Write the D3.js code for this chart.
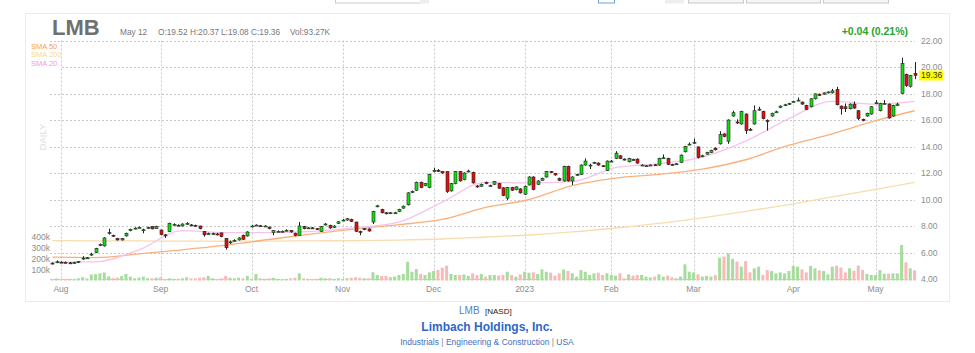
<!DOCTYPE html>
<html>
<head>
<meta charset="utf-8">
<script src="https://cdn.jsdelivr.net/npm/d3@7"></script>
<style>
  body { margin: 0; background: #fff; }
  svg { display: block; font-family: Arial, "Liberation Sans", sans-serif; }
</style>
</head>
<body>
<div id="chart"></div>
<script>
// daily candles, Jul 28 2022 .. May 12 2023 (one entry per trading day)
const opens = [5.2,5.28,5.27,5.26,5.22,5.22,5.24,5.55,5.6,5.82,6.0,6.55,6.5,7.48,7.3,7.05,6.95,7.25,7.65,7.82,
  7.9,7.7,7.88,7.95,7.8,7.7,7.33,7.57,8.1,8.06,8.0,8.18,8.08,8.05,8.0,7.6,7.4,7.42,7.4,7.48,
  7.07,6.8,6.9,6.95,7.3,7.25,7.98,8.05,8.02,7.98,7.92,7.5,7.6,7.6,7.67,7.67,7.45,7.3,7.95,7.86,
  7.86,7.8,7.6,8.12,8.05,7.9,8.2,8.42,8.45,8.5,8.3,7.58,7.72,7.78,8.3,9.5,9.25,9.0,8.98,9.0,
  9.1,9.35,9.6,10.58,10.7,11.3,11.05,10.9,12.15,12.2,12.1,12.1,10.65,11.2,12.1,11.5,12.15,12.05,11.02,11.0,
  11.3,11.05,11.15,11.2,10.88,10.1,10.9,10.75,10.8,10.4,11.1,11.7,11.15,11.45,11.7,12.1,11.95,11.6,11.4,12.5,
  11.4,11.88,11.9,12.6,12.6,12.75,12.75,12.55,12.2,12.88,13.1,13.3,13.05,12.85,13.02,13.05,12.6,12.55,12.6,12.62,
  12.6,13.15,13.1,12.65,12.7,12.8,13.6,14.15,14.3,13.97,13.3,13.42,13.55,13.88,14.2,14.95,14.4,16.3,15.85,15.7,
  16.45,15.3,15.7,16.8,16.65,15.95,16.3,16.6,16.95,17.15,17.18,17.38,17.5,17.35,17.1,17.0,17.6,17.95,17.95,18.05,
  18.05,18.3,17.05,17.0,16.85,17.2,16.7,16.05,16.3,16.45,17.28,16.7,17.25,17.2,16.3,17.1,18.0,19.45,18.55,19.52];
const highs = [5.25,5.4,5.33,5.32,5.28,5.3,5.36,5.72,5.66,5.98,6.35,6.68,7.15,7.8,7.35,7.1,7.1,7.5,7.8,7.9,
  7.97,7.8,7.95,7.97,8.02,7.72,7.4,8.25,8.2,8.12,8.2,8.3,8.15,8.1,8.02,7.62,7.5,7.5,7.48,7.5,
  7.1,6.9,7.0,7.15,7.35,7.6,8.08,8.12,8.08,8.06,7.95,7.7,7.67,7.66,7.75,7.7,7.5,8.3,8.0,7.92,
  7.92,7.85,8.0,8.22,8.1,8.05,8.35,8.52,8.6,8.55,8.32,7.65,7.85,7.82,9.15,9.6,9.3,9.05,9.05,9.07,
  9.3,9.55,10.55,10.68,11.35,11.35,11.25,11.95,12.4,12.3,12.15,12.12,11.25,12.15,12.15,12.05,12.25,12.1,11.1,11.2,
  11.35,11.12,11.4,11.25,10.92,10.95,10.95,11.0,10.85,11.05,11.75,11.75,11.45,11.65,12.15,12.15,12.0,11.65,12.55,12.55,
  11.75,11.95,12.65,13.1,12.7,12.85,12.8,12.6,12.95,12.98,13.65,13.35,13.1,13.15,13.08,13.1,12.66,12.6,12.65,12.68,
  13.15,13.4,13.15,12.7,12.75,13.4,14.05,14.3,14.6,14.0,13.38,13.6,13.75,13.92,15.15,15.0,16.05,16.7,16.05,16.7,
  16.5,15.4,17.1,17.0,16.7,16.05,16.55,16.7,17.1,17.22,17.3,17.45,17.7,17.4,17.15,17.65,18.0,18.0,18.08,18.15,
  18.35,18.5,17.1,17.25,17.25,17.4,16.75,16.1,16.55,17.05,17.5,17.3,17.5,17.25,17.15,17.3,20.7,19.5,19.4,20.37];
const lows = [5.12,5.2,5.2,5.2,5.14,5.17,5.2,5.45,5.52,5.75,5.95,6.48,6.45,7.35,7.2,6.9,6.9,7.2,7.6,7.75,
  7.85,7.45,7.8,7.75,7.78,7.3,7.1,7.55,8.05,8.0,7.97,8.1,8.0,7.97,7.75,7.2,7.35,7.35,7.3,7.15,
  6.22,6.65,6.82,6.9,6.95,7.2,7.9,8.0,7.95,7.93,7.75,7.3,7.55,7.55,7.6,7.5,7.22,7.28,7.75,7.8,
  7.78,7.72,7.55,8.05,7.8,7.85,8.15,8.38,8.4,8.3,7.55,7.3,7.68,7.58,8.15,9.42,8.95,8.88,8.92,8.93,
  9.05,9.3,9.55,10.5,10.65,10.85,11.0,10.85,12.05,12.1,11.95,10.5,10.6,11.15,11.35,11.45,12.05,11.2,10.9,10.95,
  11.15,10.98,11.1,10.8,10.25,9.95,10.65,10.7,10.45,10.35,11.05,10.7,11.1,11.4,11.65,12.0,11.8,11.4,11.35,11.35,
  11.1,11.8,11.85,12.55,12.3,12.7,12.55,12.45,12.15,12.82,13.05,13.05,12.95,12.8,12.95,12.7,12.55,12.48,12.55,12.55,
  12.55,13.1,12.6,12.58,12.65,12.75,13.55,14.1,14.2,13.1,13.2,13.38,13.5,13.7,14.15,14.7,14.2,16.25,15.7,15.65,
  14.95,15.2,15.65,16.7,16.05,15.2,16.25,16.55,16.9,17.1,17.15,17.33,17.45,17.15,16.75,16.95,17.55,17.82,17.9,18.0,
  18.0,17.1,16.4,16.6,16.8,16.85,16.0,15.9,16.25,16.4,17.2,16.65,17.2,16.1,16.25,17.05,17.95,18.5,18.45,19.08];
const closes = [5.18,5.3,5.26,5.25,5.2,5.24,5.32,5.58,5.6,5.88,6.3,6.6,7.1,7.5,7.25,6.95,7.05,7.45,7.75,7.84,
  7.9,7.72,7.9,7.78,7.97,7.35,7.3,8.2,8.12,8.05,8.15,8.2,8.07,8.03,7.8,7.33,7.42,7.42,7.38,7.2,
  6.36,6.8,6.92,7.1,7.0,7.55,8.0,8.07,8.0,8.0,7.8,7.65,7.6,7.6,7.68,7.55,7.3,8.0,7.8,7.86,
  7.85,7.78,7.95,8.15,7.85,8.0,8.32,8.45,8.55,8.35,7.6,7.55,7.8,7.62,9.1,9.52,9.0,8.92,9.0,9.0,
  9.25,9.5,10.5,10.6,11.3,10.9,11.2,11.9,12.2,12.18,12.0,10.6,11.2,12.1,11.4,12.0,12.15,11.25,11.0,11.15,
  11.2,11.05,11.35,10.85,10.3,10.9,10.7,10.95,10.5,11.0,11.7,10.75,11.4,11.6,12.1,12.08,11.85,11.45,12.5,11.4,
  11.7,11.9,12.6,12.9,12.6,12.8,12.6,12.52,12.9,12.9,13.5,13.1,13.02,13.1,13.0,12.75,12.6,12.55,12.6,12.6,
  13.1,13.15,12.65,12.62,12.7,13.35,14.0,14.18,14.32,13.17,13.3,13.55,13.7,13.75,14.9,14.75,16.0,16.55,15.8,16.65,
  15.2,15.28,16.7,16.82,16.1,15.9,16.5,16.62,17.05,17.15,17.25,17.4,17.5,17.2,16.8,17.6,17.97,17.85,18.05,18.12,
  18.2,17.15,16.85,16.85,17.2,16.9,16.1,15.95,16.5,17.0,17.3,17.25,17.25,16.15,17.1,17.2,20.25,18.6,19.35,19.36];
// volume in thousands of shares
const volumes = [15,18,12,14,16,12,20,30,18,55,58,65,72,38,22,26,40,60,35,20,
  26,35,20,20,26,30,14,20,14,16,20,29,20,20,26,29,41,20,14,20,
  41,26,20,26,20,41,14,59,20,15,20,25,15,12,15,20,25,65,20,15,
  15,15,25,20,20,15,20,15,20,25,30,25,20,20,75,50,41,41,30,35,
  50,59,171,80,104,59,50,74,86,95,117,135,59,50,50,55,41,65,50,59,
  35,50,50,44,50,80,50,35,56,80,71,74,59,101,80,71,44,65,101,86,
  65,35,95,80,50,65,71,50,65,50,44,65,20,56,44,50,50,35,29,35,
  56,35,44,29,20,35,147,80,74,55,35,41,35,50,207,217,247,196,172,126,
  177,74,111,126,50,95,86,65,74,65,86,132,126,101,74,132,111,92,86,56,
  126,135,117,74,111,89,135,95,59,50,50,95,62,62,65,65,323,166,111,93];

// moving averages sampled every 10 sessions
const smaDays = [0,10,20,30,40,50,60,70,80,90,100,110,120,130,140,150,160,170,180,190,199];
const sma20 = [5.28,5.3,6.2,7.65,7.5,7.5,7.6,7.88,8.3,9.8,11.3,11.25,11.35,12.4,12.7,13.2,14.4,16.1,17.4,17.2,17.4];
const sma50 = [5.65,5.62,5.9,6.2,6.55,6.98,7.4,7.78,8.1,8.5,9.4,10.0,11.05,11.62,11.9,12.3,13.0,14.1,14.95,15.95,16.7];
const sma200 = [6.9,6.88,6.87,6.86,6.85,6.86,6.88,6.9,6.94,7.02,7.17,7.32,7.55,7.85,8.2,8.62,9.1,9.62,10.2,10.76,11.3];

const monthLabels = ["Aug","Sep","Oct","Nov","Dec","2023","Feb","Mar","Apr","May"];
const monthDays = [2,25,46,67,88,109,129,148,171,190];
const priceTicks = [4,6,8,10,12,14,16,18,20,22];
const volTicks = [100,200,300,400];

const W = 975, H = 353;
const left = 50, right = 915;
const grey = "#8c8c8c";

const svg = d3.select("#chart").append("svg")
  .attr("width", W).attr("height", H);

// cut-off toolbar buttons at the very top
const stubs = [[335,85,"#fff","#ccc"],[420,8,"#eee","#eee"],[598,16,"#fff","#6aa0e0"],
  [665,18,"#eee","#eee"],[688,55,"#f6f6f6","#c8c8c8"],[746,74,"#f6f6f6","#c8c8c8"],[823,65,"#f6f6f6","#c8c8c8"]];
svg.selectAll("rect.stub").data(stubs).enter().append("rect")
  .attr("x", d => d[0] + 0.5).attr("y", -5).attr("width", d => d[1]).attr("height", 8)
  .attr("fill", d => d[2]).attr("stroke", d => d[3]);

// outer frame
svg.append("rect").attr("x", 25.5).attr("y", 13.5).attr("width", 924).attr("height", 288)
  .attr("fill", "none").attr("stroke", "#ececec");

const x = d3.scaleLinear().domain([0, 199]).range([52.3, 914.6]);
const y = d3.scaleLinear().domain([4, 22]).range([279, 40.5]);
const yv = d3.scaleLinear().domain([0, 400]).range([280.5, 236.5]);

// grid
svg.append("g").selectAll("line").data(priceTicks).enter().append("line")
  .attr("x1", left).attr("x2", right)
  .attr("y1", d => Math.round(y(d)) + 0.5).attr("y2", d => Math.round(y(d)) + 0.5)
  .attr("stroke", "#c8c8c8").attr("stroke-dasharray", "2,2");
svg.append("g").selectAll("line").data(monthDays).enter().append("line")
  .attr("x1", d => Math.round(x(d)) + 0.5).attr("x2", d => Math.round(x(d)) + 0.5)
  .attr("y1", 40.5).attr("y2", 280)
  .attr("stroke", "#c8c8c8").attr("stroke-dasharray", "2,2");

// price axis on the right
const yAxis = svg.append("g").attr("transform", "translate(921,0)")
  .call(d3.axisRight(y).tickValues(priceTicks).tickFormat(d3.format(".2f")).tickSize(0));
yAxis.select(".domain").remove();
yAxis.selectAll("text").attr("x", 0).attr("fill", grey).attr("font-size", 8.5);

// volume axis on the left
const vAxis = svg.append("g").attr("transform", "translate(50,0)")
  .call(d3.axisLeft(yv).tickValues(volTicks).tickFormat(d => d + "k").tickSize(0));
vAxis.select(".domain").remove();
vAxis.selectAll("text").attr("x", 0).attr("fill", grey).attr("font-size", 8.5);

// month labels
svg.append("g").selectAll("text").data(monthDays).enter().append("text")
  .attr("x", d => x(d)).attr("y", 292).attr("text-anchor", "middle")
  .attr("fill", grey).attr("font-size", 8.5).text((d, i) => monthLabels[i]);

const days = d3.range(closes.length);
const up = i => closes[i] >= opens[i];

// volume bars
svg.append("g").selectAll("rect").data(days).enter().append("rect")
  .attr("x", i => x(i) - 1.5).attr("width", 3)
  .attr("y", i => yv(volumes[i])).attr("height", i => yv(0) - yv(volumes[i]))
  .attr("fill", i => up(i) ? "#a6dc9c" : "#f9b9b9");

// moving averages
const smaLine = vals => d3.line().curve(d3.curveMonotoneX)
  .x((d, i) => x(smaDays[i])).y(d => y(d))(vals);
svg.append("path").attr("d", smaLine(sma200)).attr("fill", "none").attr("stroke", "#f8dcae").attr("stroke-width", 1.3);
svg.append("path").attr("d", smaLine(sma50)).attr("fill", "none").attr("stroke", "#fbb07c").attr("stroke-width", 1.3);
svg.append("path").attr("d", smaLine(sma20)).attr("fill", "none").attr("stroke", "#f4c4ec").attr("stroke-width", 1.3);

// candles
const candles = svg.append("g").selectAll("g").data(days).enter().append("g");
candles.append("line")
  .attr("x1", i => Math.round(x(i)) + 0.5).attr("x2", i => Math.round(x(i)) + 0.5)
  .attr("y1", i => y(highs[i])).attr("y2", i => y(lows[i]))
  .attr("stroke", "#222").attr("stroke-width", 1);
candles.append("rect")
  .attr("x", i => Math.round(x(i)) - 1).attr("width", 3)
  .attr("y", i => y(Math.max(opens[i], closes[i])))
  .attr("height", i => Math.max(1, Math.abs(y(opens[i]) - y(closes[i]))))
  .attr("fill", i => up(i) ? "#11dd11" : "#e01010")
  .attr("stroke", "#222").attr("stroke-width", 0.6);

// last price marker
const last = closes[closes.length - 1];
svg.append("rect").attr("x", 919).attr("y", y(last) - 5).attr("width", 24).attr("height", 10).attr("fill", "#ffff00");
svg.append("text").attr("x", 921).attr("y", y(last) + 3).attr("font-size", 8.5).attr("fill", "#333").text(last.toFixed(2));

// legend
svg.append("rect").attr("x", 28).attr("y", 42).attr("width", 32).attr("height", 26).attr("fill", "#fff");
const legend = [["SMA 50", "#fb9d55"], ["SMA 200", "#f3d79a"], ["SMA 20", "#f19be3"]];
svg.append("g").selectAll("text").data(legend).enter().append("text")
  .attr("x", 31).attr("y", (d, i) => 49 + i * 8.3).attr("font-size", 7.5)
  .attr("fill", d => d[1]).text(d => d[0]);

svg.append("text").attr("transform", "translate(46,137) rotate(-90)").attr("text-anchor", "middle")
  .attr("font-size", 9.5).attr("fill", "#dcdcdc").text("DAILY");

// header
svg.append("text").attr("x", 52).attr("y", 35).attr("font-size", 22).attr("font-weight", "bold")
  .attr("fill", "#707070").text("LMB");
const info = [["May 12", 120], ["O:19.52", 158], ["H:20.37", 190], ["L:19.08", 221], ["C:19.36", 251], ["Vol:93.27K", 290]];
svg.append("g").selectAll("text").data(info).enter().append("text")
  .attr("x", d => d[1]).attr("y", 35).attr("font-size", 8.3).attr("fill", "#777").text(d => d[0]);
svg.append("text").attr("x", 908).attr("y", 35).attr("text-anchor", "end").attr("font-size", 10.5)
  .attr("font-weight", "bold").attr("fill", "#2aa52a").text("+0.04 (0.21%)");

// footer
svg.append("text").attr("x", 459).attr("y", 314).attr("font-size", 10).attr("fill", "#5a7fbf").text("LMB");
svg.append("text").attr("x", 485).attr("y", 314).attr("font-size", 8).attr("fill", "#222").text("[NASD]");
svg.append("text").attr("x", 487).attr("y", 331).attr("text-anchor", "middle").attr("font-size", 12)
  .attr("font-weight", "bold").attr("fill", "#2d67c6").text("Limbach Holdings, Inc.");
const sub = svg.append("text").attr("x", 487).attr("y", 345).attr("text-anchor", "middle").attr("font-size", 8.5);
["Industrials", " | ", "Engineering & Construction", " | ", "USA"].forEach((t, i) => {
  sub.append("tspan").attr("fill", i % 2 ? "#888" : "#3f6fc0").text(t);
});
</script>
</body>
</html>
